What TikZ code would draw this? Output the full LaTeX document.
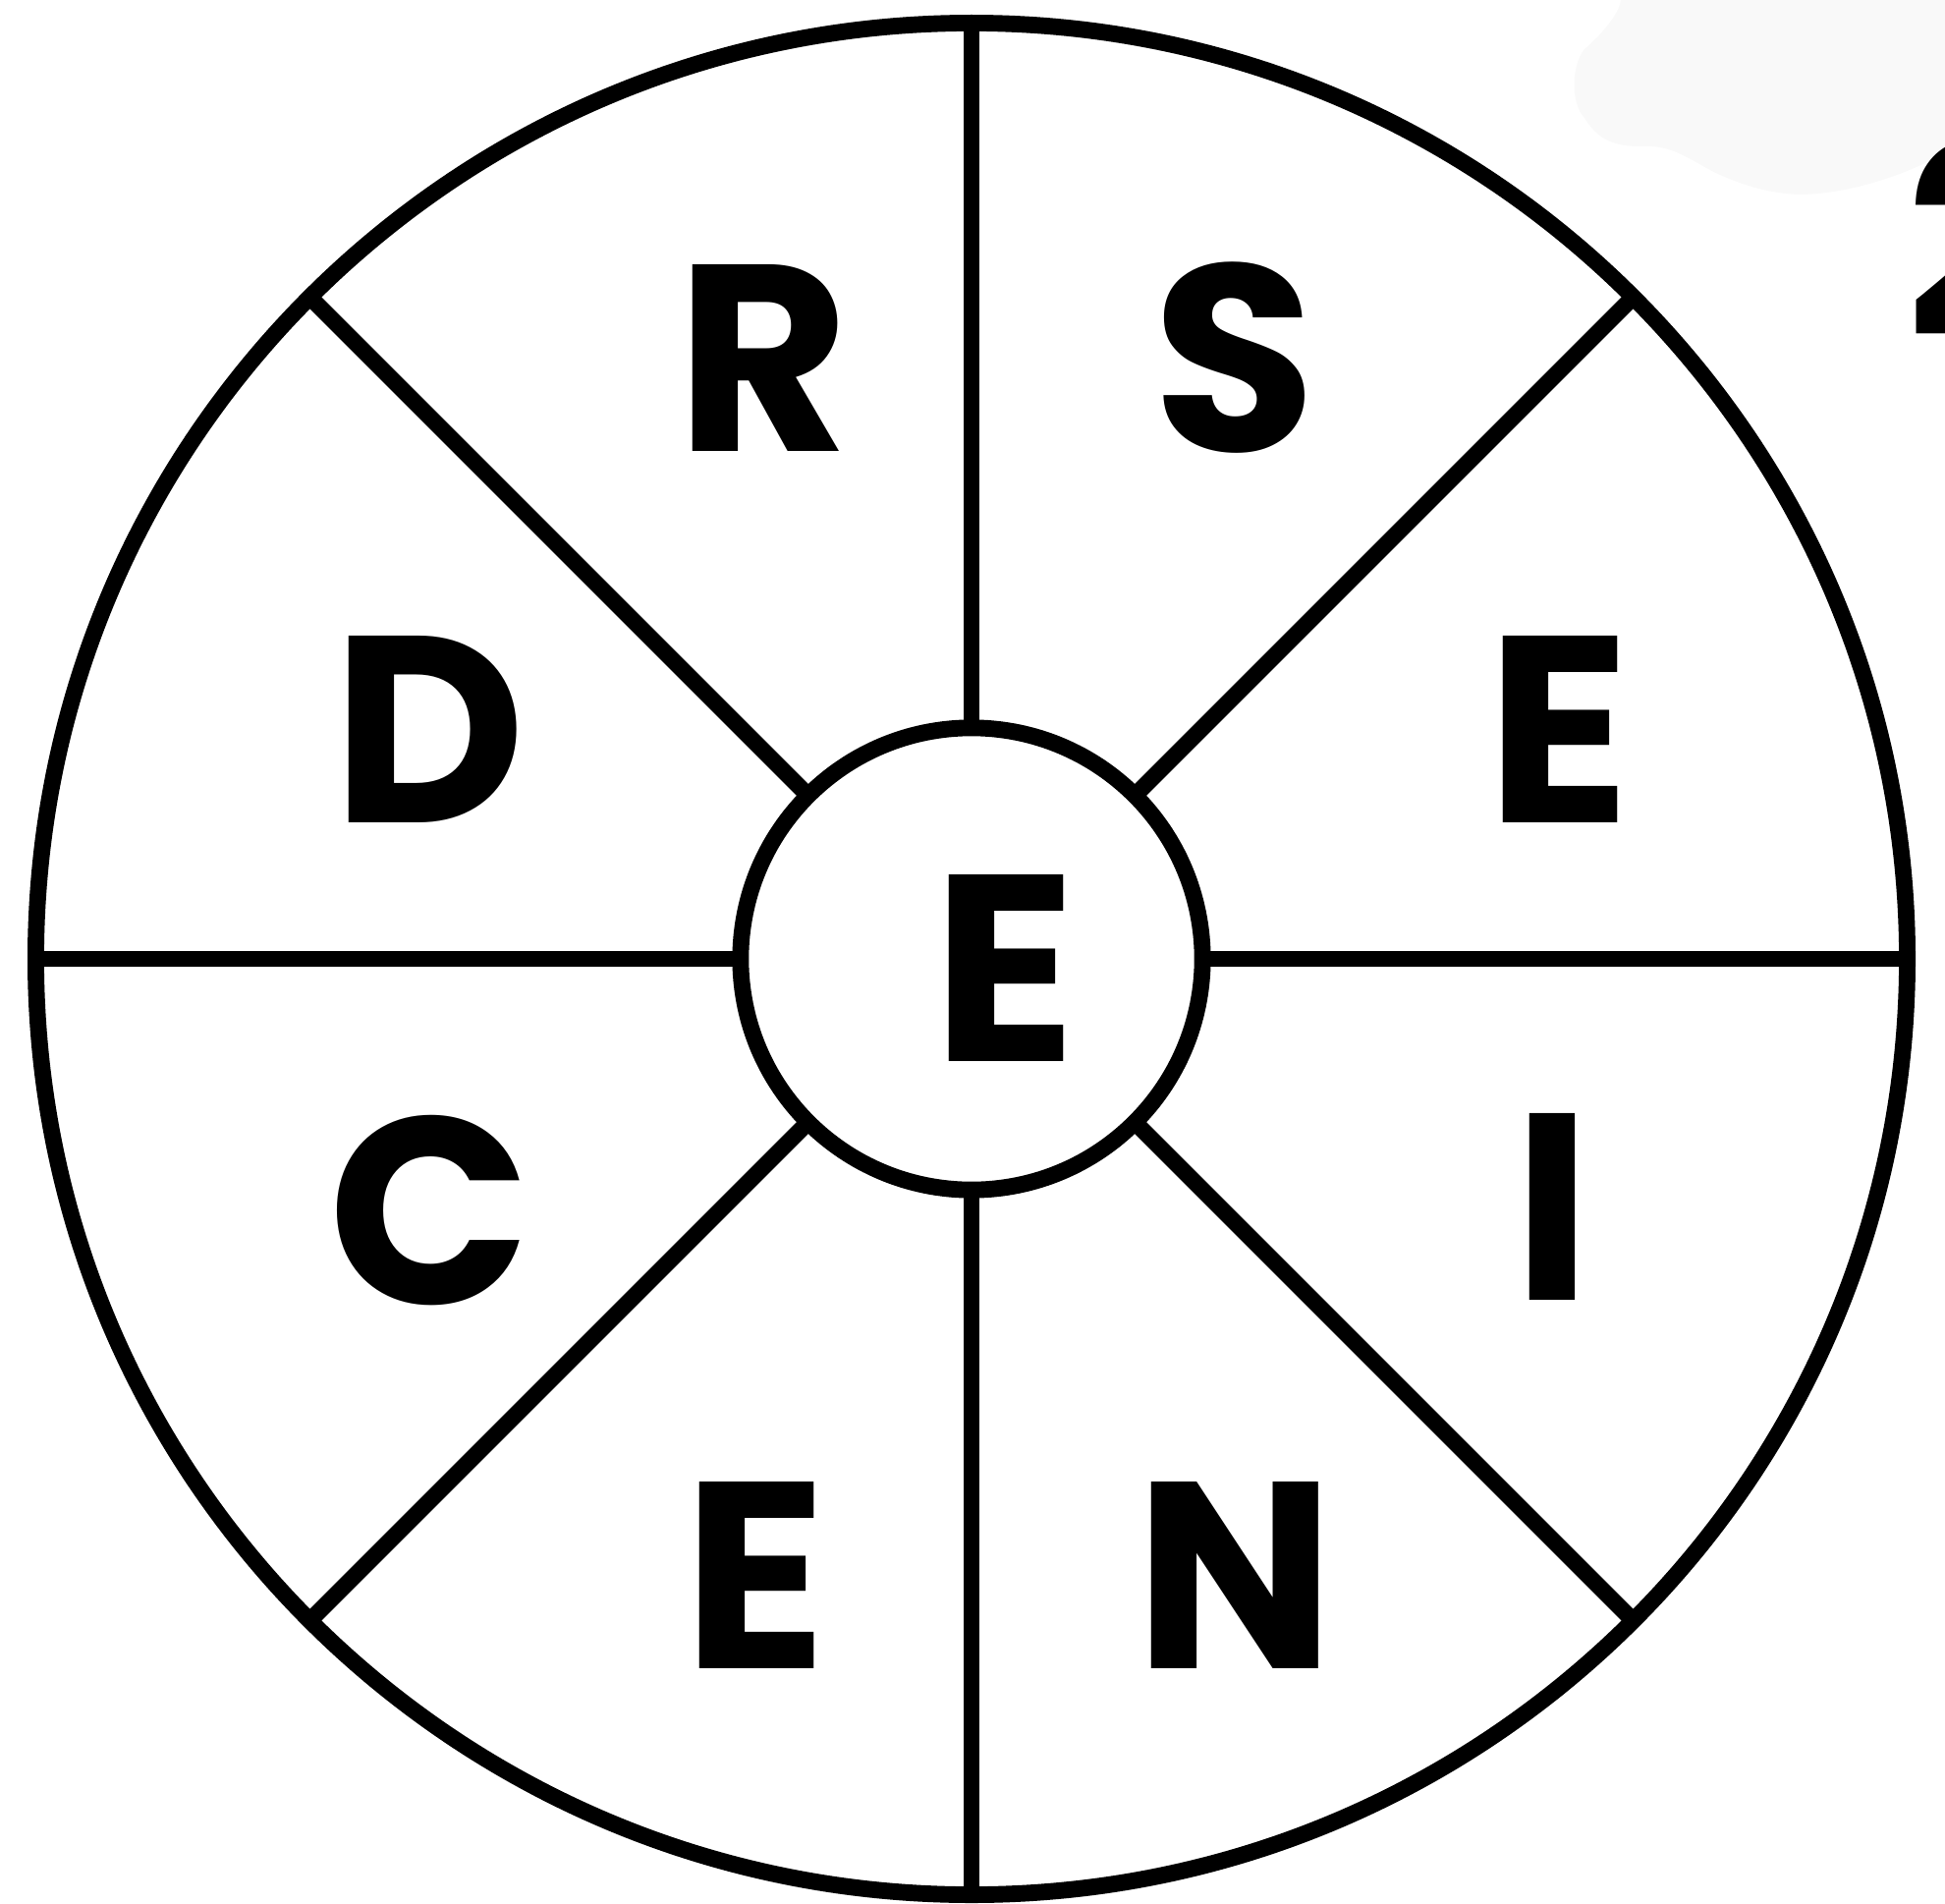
\documentclass[tikz,border=0pt]{standalone}
\usepackage{fontspec}
\setmainfont{Poppins}
\definecolor{blob}{RGB}{249,249,249}
\begin{document}
\begin{tikzpicture}[x=0.01cm,y=-0.01cm,
  ring/.style={circle,draw=black,line width=4.8pt,inner sep=0pt,outer sep=0pt},
  spoke/.style={draw=black,line width=4.8pt},
  letter/.style={font=\bfseries\fontsize{77}{80}\selectfont,inner sep=0pt,anchor=base}]
\useasboundingbox (0,0) rectangle (1980,1937);
\clip (0,0) rectangle (1980,1937);
% faint background blob
\fill[blob] (1650,-5) -- (1650,0) .. controls (1648,15) and (1630,35) .. (1613,50)
  .. controls (1600,65) and (1598,105) .. (1613,120)
  .. controls (1625,140) and (1640,148) .. (1665,149)
  .. controls (1690,148) and (1700,150) .. (1730,167)
  .. controls (1760,185) and (1800,198) .. (1835,198)
  .. controls (1880,197) and (1940,180) .. (1990,150) -- (1990,-5) -- cycle;
\node[ring,minimum size=19.04cm] (outer) at (989,976) {};
\node[ring,minimum size=4.7cm,fill=white] (inner) at (989,976) {};
\foreach \a in {0,45,...,315}{
  \draw[spoke] (inner.\a) -- (outer.\a);
}
\node[letter] (lr) at (777,460) {R};
\node[letter] (ls) at (1257,460) {S};
\node[letter] (ld) at (437,837) {D};
\node[letter] (le1) at (1587,837) {E};
\node[letter] (lc) at (438,1327) {C};
\node[letter] (li) at (1580,1323) {I};
\node[letter] (le2) at (769,1698) {E};
\node[letter] (ln) at (1257,1698) {N};
\node[letter] (lcen) at (1023,1080) {E};
\node[letter,anchor=base west] (two) at (1940,343) {2};
\end{tikzpicture}
\end{document}
